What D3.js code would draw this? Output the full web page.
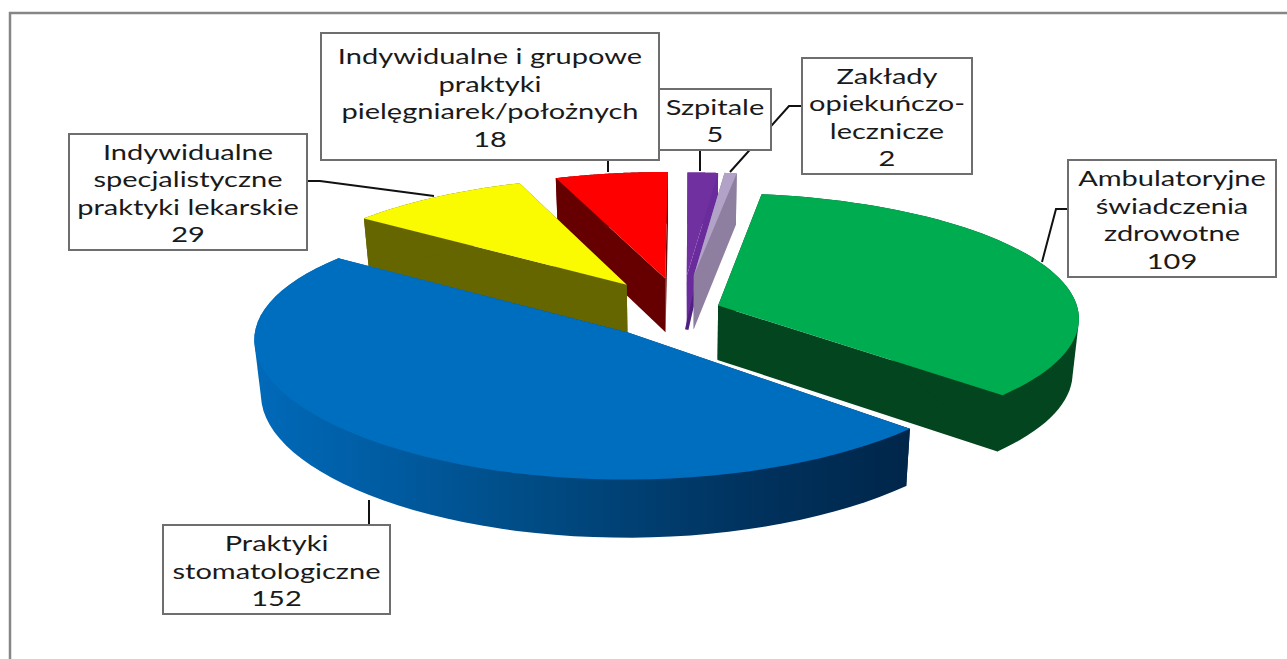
<!DOCTYPE html>
<html><head><meta charset="utf-8">
<script src="https://cdn.jsdelivr.net/npm/d3@7"></script>
<style>html,body{margin:0;padding:0;background:#fff}svg{display:block}</style>
</head><body><svg id="c" width="1287" height="659"></svg>
<script>
const categories=[["Ambulatoryjne","świadczenia","zdrowotne"],["Praktyki","stomatologiczne"],["Indywidualne","specjalistyczne","praktyki lekarskie"],["Indywidualne i grupowe","praktyki","pielęgniarek/położnych"],["Szpitale"],["Zakłady","opiekuńczo-","lecznicze"]];
const values=[109,152,29,18,5,2];
const topColors=["#00AC50","#006EBF","#FAFA00","#FF0000","#7030A0","#B2A2C7"];
const sideColors=["#03451F","url(#blueSide)","#666600","#660000","#6A2C9C","#8E7FA0"];
const explode=[39,83,93,95,102,103];
const radii=[360,370,356,355,345,345];
const perspX=[0.10,0.05,0.10,0.10,0.10,0.10];
const boxes=[[1068,160,208,117],[163,525,227,89],[69,134,238,116],[321,33,338,127],[659,89,112,61],[802,58,170,116]];
const leaders=[[[1068,209],[1056,209],[1042,262]],[[369,525],[369,500]],[[307,181],[320,181],[434,196]],[[608,160],[608,172]],[[700,150],[700,171]],[[802,106],[789,106],[730,172]]];

const cx=681.5,cy=310,k=0.345,persp=0.10,R=370,depth=54.5,conv=0.016;
const svg=d3.select("#c");
const defs=svg.append("defs");
const g=defs.append("linearGradient").attr("id","blueSide").attr("gradientUnits","userSpaceOnUse").attr("x1",252).attr("x2",908).attr("y1",0).attr("y2",0);
[[0,"#006ABA"],[0.2,"#005CA2"],[0.45,"#004A82"],[0.75,"#00335F"],[1,"#00264A"]].forEach(s=>g.append("stop").attr("offset",s[0]).attr("stop-color",s[1]));

svg.append("rect").attr("x",10).attr("y",13).attr("width",1400).attr("height",800).attr("fill","#fff").attr("stroke","#868686").attr("stroke-width",2.5);

const arcs=d3.pie().sort(null).value(d=>d).startAngle(8.2*Math.PI/180).endAngle((360+8.2)*Math.PI/180)(values);
function proj(u,v,z,px){const s=1/(1-persp*v/R),sX=1/(1-px*v/R);return [cx+u*sX*(1-conv*z),cy+v*k*s+z*depth*(1+(s-1)*0.5)];}
const line=d3.line();
const slices=arcs.map((a,i)=>{
  const mid=(a.startAngle+a.endAngle)/2,ox=Math.sin(mid)*explode[i],oy=-Math.cos(mid)*explode[i],r=radii[i];
  const pt=(t,rr,z)=>proj(ox+Math.sin(t)*rr,oy-Math.cos(t)*rr,z,perspX[i]);
  const ts=d3.range(0,61).map(j=>a.startAngle+(a.endAngle-a.startAngle)*j/60);
  return {i,pt,ts,r};
});
const order=[4,5,3,2,0,1];
order.forEach(n=>{
  const s=slices[n],gr=svg.append("g");
  const a0=s.ts[0],a1=s.ts[s.ts.length-1];
  const face=t=>[s.pt(t,0,0),s.pt(t,s.r,0),s.pt(t,s.r,1),s.pt(t,0,1)];
  gr.append("path").attr("d",line(face(a0))+"Z").attr("fill",sideColors[n]);
  gr.append("path").attr("d",line(face(a1))+"Z").attr("fill",sideColors[n]);
  if(n===4) gr.append("path").attr("d",line([s.pt(a1,s.r,0.4),s.pt(a1,0,1)])).attr("stroke","#4F2080").attr("stroke-width",3.5);
  const wall=s.ts.map(t=>s.pt(t,s.r,0)).concat(s.ts.map(t=>s.pt(t,s.r,1)));
  gr.append("path").attr("d",line(d3.polygonHull(wall))+"Z").attr("fill",sideColors[n]);
  const top=[s.pt(a0,0,0)].concat(s.ts.map(t=>s.pt(t,s.r,0)));
  gr.append("path").attr("d",line(top)+"Z").attr("fill",topColors[n]);
});

leaders.forEach(l=>svg.append("path").attr("d",line(l)).attr("fill","none").attr("stroke","#111").attr("stroke-width",2));
const sx=1.35,fs=21.5,lh=27.6;
categories.forEach((c,i)=>{
  const b=boxes[i];
  svg.append("rect").attr("x",b[0]).attr("y",b[1]).attr("width",b[2]).attr("height",b[3]).attr("fill","#fff").attr("stroke","#6e6e6e").attr("stroke-width",2);
  const lines=c.concat([String(values[i])]);
  const mx=b[0]+b[2]/2,my=b[1]+b[3]/2;
  lines.forEach((t,j)=>{
    svg.append("text").attr("transform",`translate(${mx},${my+(j-(lines.length-1)/2)*lh+9}) scale(${sx},1)`).attr("text-anchor","middle").attr("font-family","Lato").attr("font-size",fs).attr("fill","#1a1a1a").text(t);
  });
});
</script></body></html>
